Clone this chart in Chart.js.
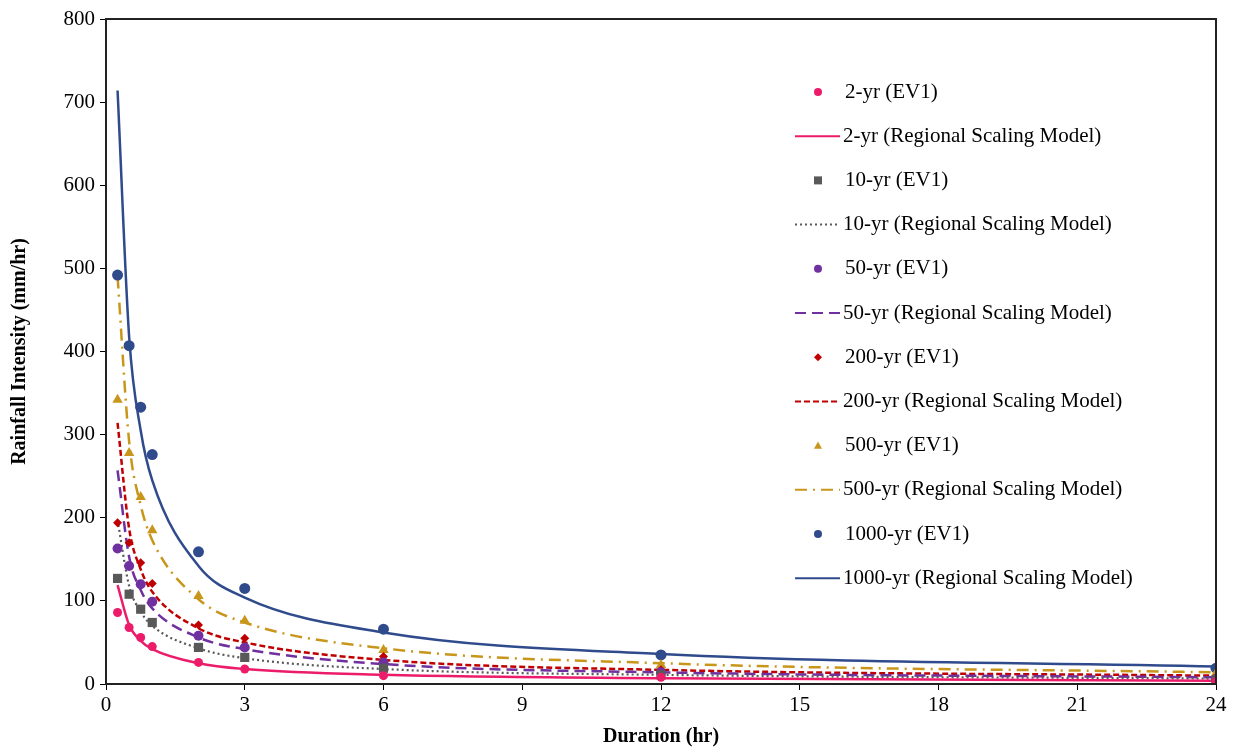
<!DOCTYPE html>
<html>
<head>
<meta charset="utf-8">
<script src="https://cdn.jsdelivr.net/npm/chart.js@4/dist/chart.umd.min.js"></script>
<style>
  body { margin: 0; background: #fff; }
</style>
</head>
<body>
<canvas id="idf-chart" width="1235" height="747"></canvas>
<script>
// storm durations (hr)
var durations = [0.25, 0.5, 0.75, 1, 2, 3, 6, 12, 24]

// EV1 intensities (mm/hr)
var ev1_2 = [86, 68, 56, 45, 26, 18, 10, 8, 3]
var ev1_10 = [127, 108, 90, 74, 44, 32, 19, 11, 5]
var ev1_50 = [163, 142, 120, 99, 58, 44, 26, 14, 6]
var ev1_200 = [194, 170, 146, 121, 71, 55, 33, 17, 8]
var ev1_500 = [342, 278, 225, 185, 106, 76, 41, 23, 13]
var ev1_1000 = [492, 407, 333, 276, 159, 115, 66, 35, 19]

// regional scaling model intensities (mm/hr)
var rsm_2 = [119, 71, 52, 42, 25, 18, 11, 7, 4]
var rsm_10 = [197, 118, 87, 70, 43, 31, 18, 11, 6.5]
var rsm_50 = [257, 153, 113, 91, 56, 42, 24, 14, 8]
var rsm_200 = [314, 187, 138, 111, 67, 50, 29, 17, 10]
var rsm_500 = [490, 292, 215, 173, 102, 74, 43, 25, 14]
var rsm_1000 = [714, 418, 305, 245, 142, 104, 62, 36, 21]

var xTicks = [0, 3, 6, 9, 12, 15, 18, 21, 24]
var yTicks = [0, 100, 200, 300, 400, 500, 600, 700, 800]

function pts(vals) {
	return durations.map(function (d, i) { return { x: d, y: vals[i] } })
}

function ev1Set(label, vals, color, style, r) {
	return {
		type: 'scatter', label: label, data: pts(vals), showLine: false,
		pointStyle: style, pointRadius: r, backgroundColor: color, borderColor: color,
		borderWidth: 0, order: 0
	}
}

function rsmSet(label, vals, color, dash, w) {
	return {
		type: 'line', label: label, data: pts(vals), borderColor: color,
		backgroundColor: color, borderWidth: w, borderDash: dash, pointRadius: 0,
		cubicInterpolationMode: 'monotone', fill: false, order: 1
	}
}

var pink = '#ec1c6b', grey = '#595959', purple = '#7030a0'
var red = '#c00000', gold = '#c8961a', navy = '#2f4b8c'

var datasets = [
	ev1Set('2-yr (EV1)', ev1_2, pink, 'circle', 4.5),
	rsmSet('2-yr (Regional Scaling Model)', rsm_2, pink, [], 2.5),
	ev1Set('10-yr (EV1)', ev1_10, grey, 'rect', 6.5),
	rsmSet('10-yr (Regional Scaling Model)', rsm_10, grey, [2, 3], 2.2),
	ev1Set('50-yr (EV1)', ev1_50, purple, 'circle', 5),
	rsmSet('50-yr (Regional Scaling Model)', rsm_50, purple, [11, 6], 2.5),
	ev1Set('200-yr (EV1)', ev1_200, red, 'rectRot', 4.5),
	rsmSet('200-yr (Regional Scaling Model)', rsm_200, red, [6, 3], 2.5),
	ev1Set('500-yr (EV1)', ev1_500, gold, 'triangle', 6),
	rsmSet('500-yr (Regional Scaling Model)', rsm_500, gold, [12, 6, 2, 6], 2.5),
	ev1Set('1000-yr (EV1)', ev1_1000, navy, 'circle', 5.5),
	rsmSet('1000-yr (Regional Scaling Model)', rsm_1000, navy, [], 2.5)
]

// box round the plot area
var boxPlugin = {
	id: 'box',
	afterDraw: function (chart) {
		var a = chart.chartArea, ctx = chart.ctx
		ctx.save()
		ctx.strokeStyle = '#222'
		ctx.lineWidth = 2
		ctx.strokeRect(a.left, a.top, a.right - a.left, a.bottom - a.top)
		ctx.restore()
	}
}

// legend drawn inside the plot, on the right
function marker(ctx, style, x, y, r) {
	ctx.beginPath()
	if (style === 'circle') {
		ctx.arc(x, y, r, 0, Math.PI * 2)
	} else if (style === 'rect') {
		ctx.rect(x - r, y - r, r * 2, r * 2)
	} else if (style === 'rectRot') {
		ctx.moveTo(x, y - r); ctx.lineTo(x + r, y); ctx.lineTo(x, y + r); ctx.lineTo(x - r, y)
	} else if (style === 'triangle') {
		ctx.moveTo(x, y - r); ctx.lineTo(x + r, y + r * 0.8); ctx.lineTo(x - r, y + r * 0.8)
	}
	ctx.closePath()
	ctx.fill()
}

var legendPlugin = {
	id: 'sideLegend',
	afterDraw: function (chart) {
		var ctx = chart.ctx
		ctx.save()
		ctx.font = '21px "Liberation Serif"'
		ctx.textBaseline = 'middle'
		chart.data.datasets.forEach(function (ds, i) {
			var y = 92 + i * 44.2
			if (ds.showLine === false) {
				ctx.fillStyle = ds.backgroundColor
				marker(ctx, ds.pointStyle, 818, y, ds.pointStyle === 'rect' ? 4 : 4)
				ctx.fillStyle = '#000'
				ctx.fillText(ds.label, 845, y)
			} else {
				ctx.strokeStyle = ds.borderColor
				ctx.lineWidth = 2
				ctx.setLineDash(ds.borderDash)
				ctx.beginPath()
				ctx.moveTo(795, y)
				ctx.lineTo(840, y)
				ctx.stroke()
				ctx.setLineDash([])
				ctx.fillStyle = '#000'
				ctx.fillText(ds.label, 843, y)
			}
		})
		ctx.restore()
	}
}

var tickFont = { family: '"Liberation Serif"', size: 21 }
var titleFont = { family: '"Liberation Serif"', size: 20, weight: 'bold' }

var ctx = document.getElementById('idf-chart').getContext('2d')
var myChart = new Chart(ctx, {
	data: { datasets: datasets },
	options: {
		responsive: false,
		animation: false,
		layout: { padding: { top: 19, right: 19, left: 0, bottom: 0 } },
		plugins: { legend: { display: false }, tooltip: { enabled: false } },
		scales: {
			x: {
				type: 'linear', min: 0, max: 24,
				afterBuildTicks: function (s) { s.ticks = xTicks.map(function (v) { return { value: v } }) },
				afterFit: function (s) { s.height = 63 },
				grid: { drawOnChartArea: false, drawTicks: true, tickLength: 6, color: '#000' },
				border: { color: '#222', width: 2 },
				ticks: { font: tickFont, color: '#000', padding: 3, maxRotation: 0 },
				title: { display: true, text: 'Duration (hr)', font: titleFont, color: '#000', padding: { top: 0, bottom: -2 } }
			},
			y: {
				type: 'linear', min: 0, max: 800,
				afterBuildTicks: function (s) { s.ticks = yTicks.map(function (v) { return { value: v } }) },
				afterFit: function (s) { s.width = 106 },
				grid: { drawOnChartArea: false, drawTicks: true, tickLength: 6, color: '#000' },
				border: { color: '#222', width: 2 },
				ticks: { font: tickFont, color: '#000', padding: 5 },
				title: { display: true, text: 'Rainfall Intensity (mm/hr)', font: titleFont, color: '#000', padding: { top: 8, bottom: 0 } }
			}
		}
	},
	plugins: [boxPlugin, legendPlugin]
})
</script>
</body>
</html>
